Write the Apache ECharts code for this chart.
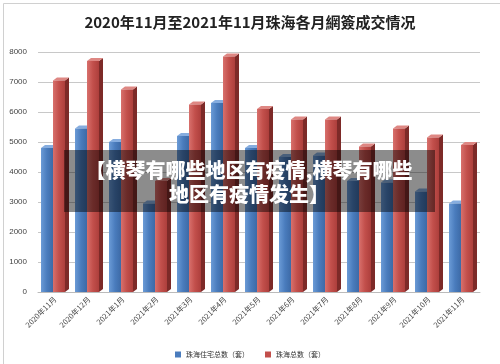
<!DOCTYPE html>
<html><head><meta charset="utf-8">
<script src="https://cdn.jsdelivr.net/npm/echarts@6/dist/echarts.min.js"></script>
<style>html,body{margin:0;padding:0;background:#fff}#c{width:500px;height:364px}</style>
</head><body><div id="c"></div>
<script>
const categories = ['2020年11月','2020年12月','2021年1月','2021年2月','2021年3月','2021年4月','2021年5月','2021年6月','2021年7月','2021年8月','2021年9月','2021年10月','2021年11月'];
const residential = [4800, 5450, 5000, 2950, 5200, 6300, 4800, 4500, 4550, 3700, 3650, 3350, 2950];
const total = [7050, 7700, 6750, 3700, 6250, 7850, 6100, 5750, 5750, 4850, 5450, 5150, 4900];
const yTicks = [0, 1000, 2000, 3000, 4000, 5000, 6000, 7000, 8000];
const seriesNames = ['珠海住宅总数（套）', '珠海总数（套）'];
const titleText = '2020年11月至2021年11月珠海各月網簽成交情况';
const overlayLines = ['【横琴有哪些地区有疫情,横琴有哪些', '地区有疫情发生】'];

const palettes = [
  {front: ['#6b9bd6', '#4a7cbd', '#3d6aa6'], side: '#2b4f80', top: '#86addf'},
  {front: ['#d8706c', '#c24f4b', '#ad3f3c'], side: '#7d2a28', top: '#de8783'}
];

function makeRender(idx) {
  return function (params, api) {
    const ci = api.value(0);
    const top = api.coord([ci, api.value(1)]);
    const base = api.coord([ci, 0]);
    const band = api.size([1, 0])[0];
    const w = 12, d = 4, h = 3;
    const left = top[0] - band / 2 + 3 + idx * 12;
    const y0 = top[1], y1 = base[1];
    const p = palettes[idx];
    return {
      type: 'group',
      children: [
        {type: 'polygon', shape: {points: [[left + w, y0], [left + w + d, y0 - h], [left + w + d, y1 - h], [left + w, y1]]}, style: {fill: p.side}},
        {type: 'polygon', shape: {points: [[left, y0], [left + d, y0 - h], [left + w + d, y0 - h], [left + w, y0]]}, style: {fill: p.top}},
        {type: 'rect', shape: {x: left, y: y0, width: w, height: y1 - y0},
         style: {fill: new echarts.graphic.LinearGradient(0, 0, 1, 0, [
           {offset: 0, color: p.front[0]}, {offset: 0.5, color: p.front[1]}, {offset: 1, color: p.front[2]}])}}
      ]
    };
  };
}

const chart = echarts.init(document.getElementById('c'), null, {renderer: 'canvas'});
chart.setOption({
  backgroundColor: '#fff',
  animation: false,
  title: {text: titleText, left: 'center', top: 10,
    textStyle: {fontFamily: 'Noto Sans CJK SC', fontSize: 15, fontWeight: 'bold', color: '#222'}},
  legend: {top: 346, left: 'center', itemWidth: 6, itemHeight: 6, itemGap: 16,
    icon: 'rect',
    textStyle: {fontFamily: 'Noto Sans CJK SC', fontSize: 7, color: '#333'},
    data: seriesNames},
  grid: {left: 38, right: 20, top: 52, bottom: 72, containLabel: false},
  xAxis: {type: 'category', data: categories,
    axisLine: {lineStyle: {color: '#bbb'}}, axisTick: {show: false},
    axisLabel: {interval: 0, rotate: 45, fontSize: 7.5, color: '#444', margin: 6, fontFamily: 'Noto Sans CJK SC'}},
  yAxis: {type: 'value', min: yTicks[0], max: yTicks[yTicks.length - 1], interval: 1000,
    axisLine: {show: false}, axisTick: {show: false},
    axisLabel: {fontSize: 8, color: '#444', margin: 11, formatter: v => String(v)},
    splitLine: {lineStyle: {color: '#c8c8c8'}}},
  graphic: [
    {type: 'rect', left: 1, top: 1, shape: {width: 497, height: 361}, style: {fill: 'none', stroke: '#d0d0d0'}, z: -10},
    {type: 'rect', z: 100, shape: {x: 64, y: 150, width: 371, height: 62}, style: {fill: 'rgba(0,0,0,0.45)'}},
    {type: 'text', z: 101, style: {x: 249, y: 170, text: overlayLines[0], fill: '#fff', align: 'center', verticalAlign: 'middle',
      font: '900 20px "Noto Sans CJK SC"'}},
    {type: 'text', z: 101, style: {x: 249, y: 194, text: overlayLines[1], fill: '#fff', align: 'center', verticalAlign: 'middle',
      font: '900 20px "Noto Sans CJK SC"'}}
  ],
  series: [
    {name: seriesNames[0], type: 'custom', renderItem: makeRender(0), itemStyle: {color: '#4a7cbd'},
      encode: {x: 0, y: 1}, data: residential.map((v, i) => [i, v])},
    {name: seriesNames[1], type: 'custom', renderItem: makeRender(1), itemStyle: {color: '#c24f4b'},
      encode: {x: 0, y: 1}, data: total.map((v, i) => [i, v])}
  ]
});
</script></body></html>
